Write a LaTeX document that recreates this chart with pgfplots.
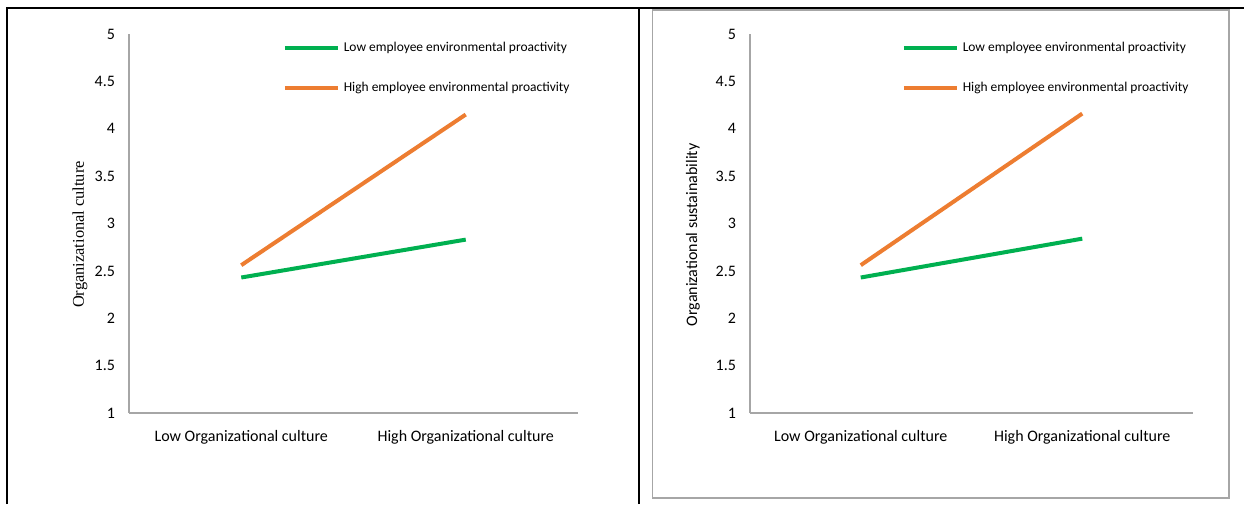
\documentclass[border=0pt]{standalone}
\usepackage{fontspec}
\setmainfont{Carlito}
\newfontfamily\tnr{Liberation Serif}
\usepackage{pgfplots}
\pgfplotsset{compat=1.18}
\definecolor{cgreen}{HTML}{00B050}
\definecolor{corange}{HTML}{ED7D31}
\definecolor{axgray}{HTML}{A6A6A6}
\pgfplotsset{
  mystyle/.style={
    scale only axis,
    width=#1, height=284.25pt,
    axis x line=bottom, axis y line=left,
    axis line style={draw=axgray, line width=0.9pt, -},
    xmin=0, xmax=2, ymin=1, ymax=5,
    xtick={0.5,1.5},
    xticklabels={Low Organizational culture, High Organizational culture},
    ytick={1,1.5,2,2.5,3,3.5,4,4.5,5},
    yticklabels={1,1.5,2,2.5,3,3.5,4,4.5,5},
    major tick length=0pt,
    tick style={draw=none},
    xticklabel style={font=\fontsize{12}{14}\selectfont, yshift=-9.5pt},
    yticklabel style={font=\fontsize{12}{14}\selectfont, xshift=-7pt},
    /pgf/number format/assume math mode=true,
    clip=false,
    legend cell align=left,
    legend image code/.code={\draw[##1] (0pt,0pt) -- (39.75pt,0pt);},
    legend style={draw=none, fill=none, font=\fontsize{10.1}{12}\selectfont,
      anchor=north west, inner sep=0pt, row sep=17pt, column sep=1pt},
  },
}
\begin{document}
\begin{tikzpicture}
\useasboundingbox (0,0) rectangle (933pt,378pt);
% table frame
\draw[black, line width=1.6pt] (5.25pt,0pt) -- (5.25pt,372pt) -- (933pt,372pt);
\draw[black, line width=1.6pt] (479.25pt,0pt) -- (479.25pt,372pt);
\draw[axgray, line width=0.9pt] (489.5pt,4.5pt) rectangle (921.75pt,370.5pt);

\begin{axis}[mystyle=336.75pt, at={(96.75pt,68.25pt)}, anchor=south west,
  ylabel={\tnr Organizational culture},
  ylabel style={at={(axis description cs:-0.109,0.471)}, anchor=center, font=\fontsize{12.3}{14}\selectfont},
  legend style={at={(axis description cs:0.342,0.985)}}]
\addplot[cgreen, line width=3pt] coordinates {(0.5,2.43) (1.5,2.83)};
\addlegendentry{Low employee environmental proactivity}
\addplot[corange, line width=3pt] coordinates {(0.5,2.56) (1.5,4.15)};
\addlegendentry{High employee environmental proactivity}
\end{axis}

\begin{axis}[mystyle=332.25pt, at={(562.5pt,68.25pt)}, anchor=south west,
  ylabel={Organizational sustainability},
  ylabel style={at={(axis description cs:-0.129,0.47)}, anchor=center, font=\fontsize{12}{14}\selectfont},
  legend style={at={(axis description cs:0.342,0.985)}}]
\addplot[cgreen, line width=3pt] coordinates {(0.5,2.43) (1.5,2.84)};
\addlegendentry{Low employee environmental proactivity}
\addplot[corange, line width=3pt] coordinates {(0.5,2.56) (1.5,4.16)};
\addlegendentry{High employee environmental proactivity}
\end{axis}
\end{tikzpicture}
\end{document}
